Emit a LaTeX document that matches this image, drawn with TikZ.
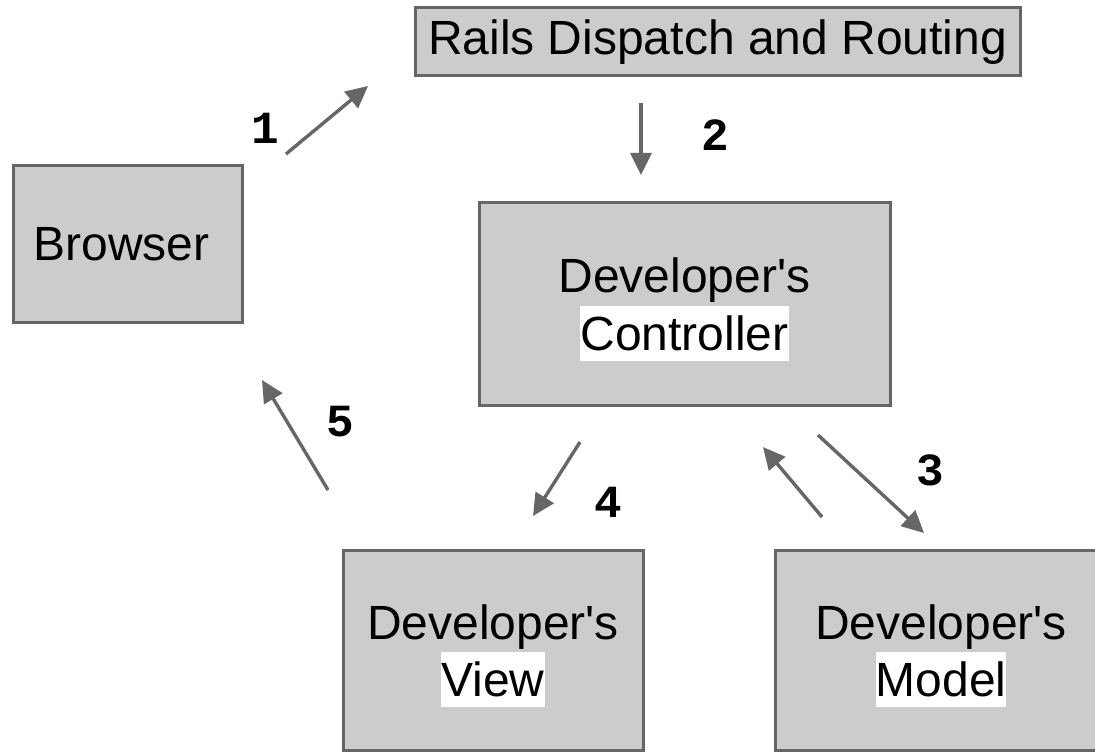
\documentclass[tikz,border=0pt]{standalone}
\usepackage{fontspec}
\setmainfont{Liberation Sans}
\newfontfamily\numfont{Liberation Mono}
\usetikzlibrary{arrows.meta, positioning}
\definecolor{boxfill}{HTML}{CCCCCC}
\definecolor{boxline}{HTML}{666666}
\newcommand{\hilite}[1]{{\fboxsep=0pt\colorbox{white}{\rule[-5.5pt]{0pt}{27.5pt}#1}}}
\newcommand{\devs}{\rule{0pt}{23pt}Developer\textquotesingle s}

\begin{document}
\begin{tikzpicture}[x=0.5pt, y=-0.5pt,
    >={Triangle[length=11pt, width=10.5pt]},
    comp/.style={draw=boxline, fill=boxfill, line width=1.5pt, inner sep=0pt,
      font=\fontsize{24}{28.5}\selectfont, align=center},
    flow/.style={->, draw=boxline, line width=1.7pt},
    num/.style={font=\fontsize{23}{23}\numfont\bfseries}]
  \useasboundingbox (0,0) rectangle (1095,753);
  \clip (0,0) rectangle (1095,753);
  % boxes
  \node[comp, minimum width=302.5pt, minimum height=34pt] (rails) at (717.5,42) {Rails Dispatch and Routing};
  \node[comp, minimum width=114.5pt, minimum height=78pt] (browser) at (127.5,244) {\hspace*{-6pt}Browser};
  \node[comp, minimum width=205.5pt, minimum height=101pt] (ctrl) at (684.5,304) {\devs\\\hilite{Controller}};
  \node[comp, minimum width=150pt, minimum height=100pt] (view) at (493,650) {\devs\\\hilite{View}};
  \node[comp, minimum width=166pt, minimum height=100pt] (model) at (941,650) {\devs\\\hilite{Model}};
  % arrow ends
  \coordinate (a1s) at (286,154);  \coordinate (a1e) at (368,86);
  \coordinate (a2s) at (641,103);  \coordinate (a2e) at (641,175);
  \coordinate (a3s) at (818,435);  \coordinate (a3e) at (924,533);
  \coordinate (a3bs) at (822,517); \coordinate (a3be) at (763,447);
  \coordinate (a4s) at (580,442);  \coordinate (a4e) at (533,516);
  \coordinate (a5s) at (328,490);  \coordinate (a5e) at (262,380);
  \draw[flow] (a1s) -- (a1e);
  \draw[flow] (a2s) -- (a2e);
  \draw[flow] (a3s) -- (a3e);
  \draw[flow] (a3bs) -- (a3be);
  \draw[flow] (a4s) -- (a4e);
  \draw[flow] (a5s) -- (a5e);
  % step numbers
  \node[num] (n1) at (265,128) {1};
  \node[num] (n2) at (715,135) {2};
  \node[num] (n3) at (930,470) {3};
  \node[num] (n4) at (608,502) {4};
  \node[num] (n5) at (340,422) {5};
\end{tikzpicture}
\end{document}
